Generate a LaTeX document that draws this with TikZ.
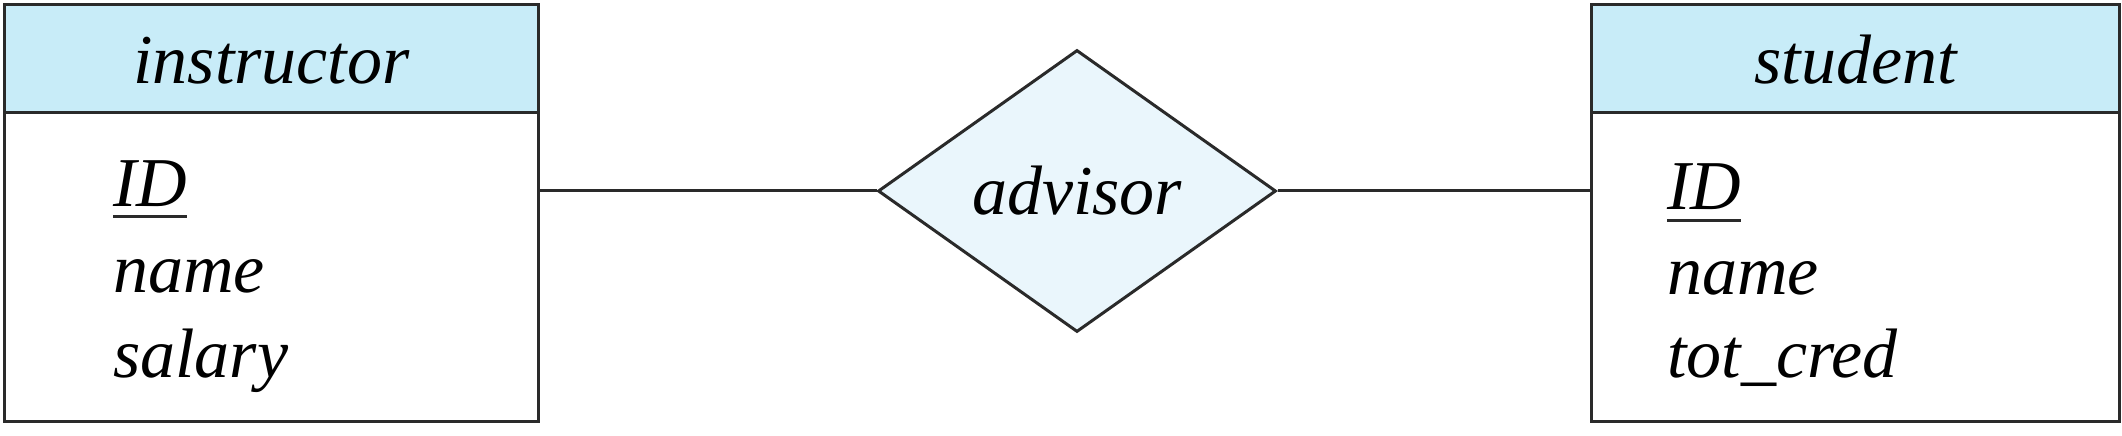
\documentclass[tikz,border=0pt]{standalone}
\usepackage{fontspec}
\setmainfont{Liberation Serif}
\usetikzlibrary{shapes.geometric}
\definecolor{hdrblue}{HTML}{C8ECF8}
\definecolor{relblue}{HTML}{EAF6FC}
\definecolor{edgecol}{HTML}{2A2A2A}
\begin{document}
\begin{tikzpicture}[x=1pt,y=1pt,
  font=\fontsize{70}{84}\selectfont\itshape,
  entitybox/.style={draw=edgecol, line width=3pt, fill=white, inner sep=0pt, anchor=north west, minimum height=417pt},
  headbox/.style={draw=edgecol, line width=3pt, fill=hdrblue, inner sep=0pt, anchor=north west, minimum height=108pt},
  relbox/.style={shape=diamond, draw=edgecol, line width=3pt, fill=relblue, inner sep=0pt, minimum width=398pt, minimum height=282pt},
  attr/.style={inner sep=0pt, anchor=base west},
  title/.style={inner sep=0pt, anchor=base},
  conn/.style={draw=edgecol, line width=3pt},
  keyline/.style={draw=edgecol, line width=3pt}
]
\useasboundingbox (0,0) rectangle (2122,436);
% instructor entity
\node[entitybox, minimum width=534pt] (instr) at (3,433) {};
\node[headbox, minimum width=534pt] (instrhead) at (3,433) {};
\node[title] (instrtitle) at (instrhead.center |- 0,352) {instructor};
\node[attr] (iid) at (113,229) {ID};
\node[attr] (iname) at (113,143) {name};
\node[attr] (isal) at (113,58) {salary};
\draw[keyline] ([yshift=-10pt]iid.base west) -- ([yshift=-10pt]iid.base east);
% student entity
\node[entitybox, minimum width=528pt] (stud) at (1590,433) {};
\node[headbox, minimum width=528pt] (studhead) at (1590,433) {};
\node[title] (studtitle) at (studhead.center |- 0,352) {student};
\node[attr] (sid) at (1667,226) {ID};
\node[attr] (sname) at (1667,141) {name};
\node[attr] (scred) at (1667,58) {tot\_cred};
\draw[keyline] ([yshift=-11pt]sid.base west) -- ([yshift=-11pt]sid.base east);
% relationship
\node[relbox] (adv) at (1077,245) {advisor};
% connectors
\coordinate (ileft) at (instr.east |- adv.west);
\coordinate (sright) at (stud.west |- adv.east);
\draw[conn] (ileft) -- (adv.west);
\draw[conn] (adv.east) -- (sright);
\end{tikzpicture}
\end{document}
